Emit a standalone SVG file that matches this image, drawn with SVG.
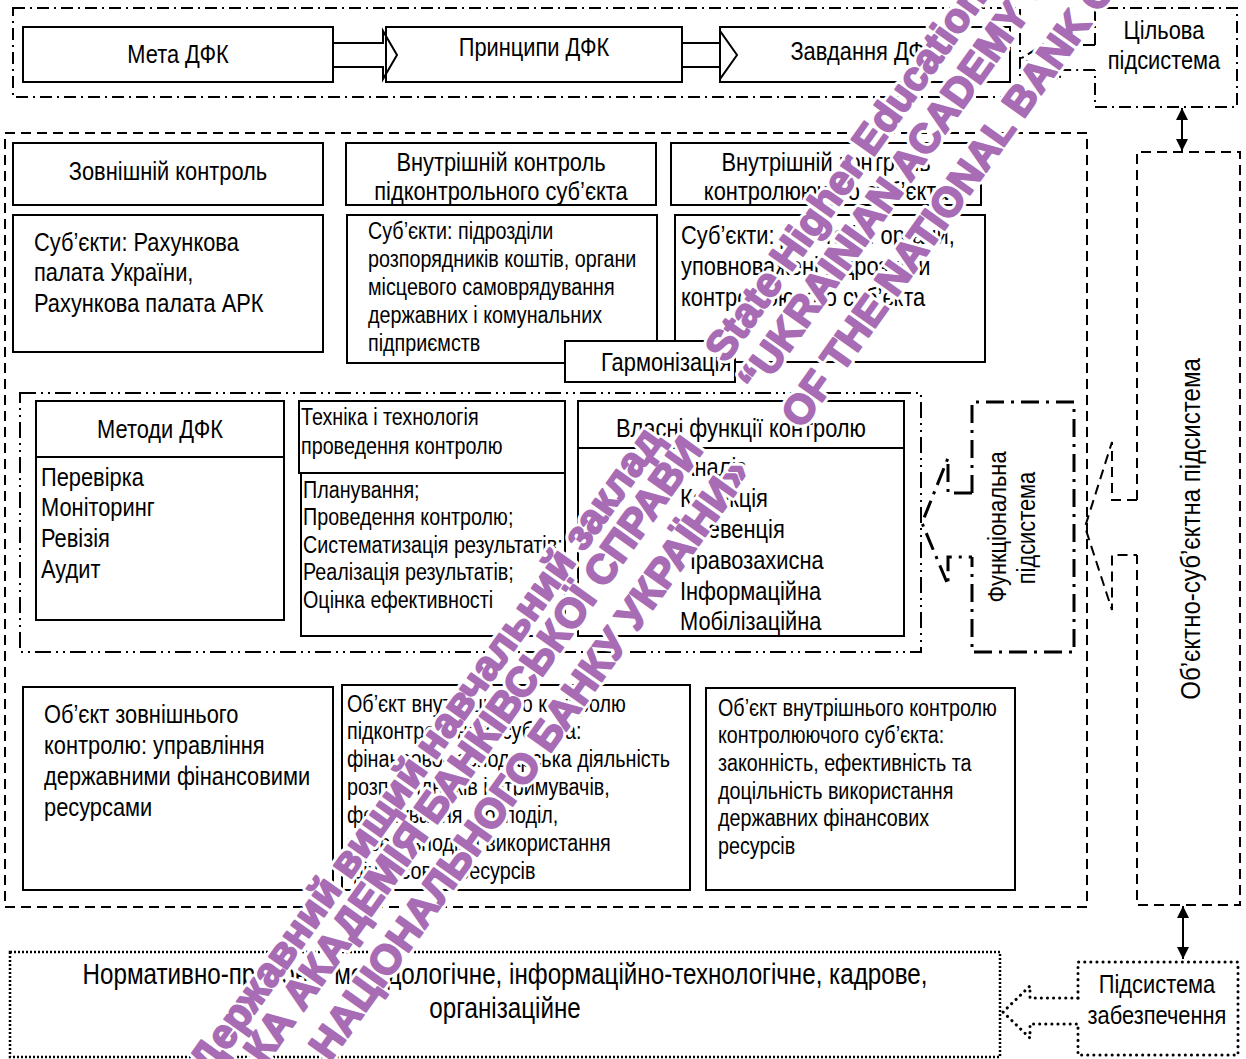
<svg xmlns="http://www.w3.org/2000/svg" width="1246" height="1059" viewBox="0 0 1246 1059">
<defs>
<style>
.bx{fill:#fff;stroke:#000;stroke-width:2}
.ln{fill:none;stroke:#000;stroke-width:2}
.t{font-family:"Liberation Sans",Arial,sans-serif;fill:#000}
.L{font-size:26px}
.S{font-size:23.5px}
.X{font-size:28.8px}
.m{text-anchor:middle}
.dd{fill:none;stroke:#000;stroke-width:2;stroke-dasharray:12 5 2 5}
.da{fill:none;stroke:#000;stroke-width:2;stroke-dasharray:10 6}
.ddd{fill:none;stroke:#000;stroke-width:2;stroke-dasharray:16 5 2 5 2 5}
.hv{fill:none;stroke:#000;stroke-width:3;stroke-dasharray:18 7 3 7}
.dot{fill:none;stroke:#000;stroke-width:2.5;stroke-dasharray:2 2}
.rdot{fill:none;stroke:#000;stroke-width:3;stroke-linecap:round;stroke-dasharray:0.1 6}
.wt{font-family:"Liberation Sans",Arial,sans-serif;font-weight:bold;font-size:41px}
.halo{fill:#fff;stroke:#fff;stroke-width:8;stroke-linejoin:round}
.wf{fill:#a86cb5;stroke:#a86cb5;stroke-width:2;stroke-linejoin:round}
</style>
<marker id="ah" viewBox="0 0 10 10" refX="10" refY="5" markerWidth="6" markerHeight="6" markerUnits="strokeWidth" orient="auto-start-reverse">
<path d="M0,0 L10,5 L0,10 z" fill="#000"/>
</marker>
<g id="w1"><text class="wt" transform="translate(726,364) rotate(-54.5)">State Higher Educational Institution</text></g>
<g id="w2"><text class="wt" transform="translate(759,395) rotate(-54.5)">“UKRAINIAN ACADEMY OF BANKING”</text></g>
<g id="w3"><text class="wt" transform="translate(802,430) rotate(-54.5)">OF THE NATIONAL BANK OF UKRAINE</text></g>
<g id="w4"><text class="wt" transform="translate(664,440) rotate(-54.5)" text-anchor="end">Державний вищий навчальний заклад</text></g>
<g id="w5"><text class="wt" transform="translate(704,450) rotate(-54.5)" text-anchor="end">«УКРАЇНСЬКА АКАДЕМІЯ БАНКІВСЬКОЇ СПРАВИ</text></g>
<g id="w6"><text class="wt" transform="translate(751,472) rotate(-54.5)" text-anchor="end">НАЦІОНАЛЬНОГО БАНКУ УКРАЇНИ»</text></g>
</defs>
<rect width="1246" height="1059" fill="#fff"/>

<g id="frames">
<rect class="dd" x="13" y="8" width="1007" height="89"/>
<rect class="da" x="5" y="133" width="1082" height="774"/>
<rect class="ddd" x="20" y="393" width="901" height="259"/>
<rect class="dot" x="10" y="952" width="990" height="105"/>
</g>

<g id="meta"><rect class="bx" x="23" y="27" width="310" height="55"/><text class="t L m" transform="translate(178,63) scale(.84,1)">Мета ДФК</text></g>
<g id="pryntsypy"><rect class="bx" x="386" y="27" width="296" height="55"/><text class="t L m" transform="translate(534,56) scale(.84,1)">Принципи ДФК</text></g>
<g id="zavdannia"><rect class="bx" x="720" y="27" width="290" height="55"/><text class="t L m" transform="translate(864,60) scale(.84,1)">Завдання ДФК</text></g>
<g id="tsilova"><path class="dd" d="M1095,45 L1095,8 L1237,8 L1237,107 L1095,107 L1095,70"/><text class="t L m" transform="translate(1164,39) scale(.84,1)">Цільова</text><text class="t L m" transform="translate(1164,69) scale(.84,1)">підсистема</text></g>

<g id="zovn"><rect class="bx" x="13" y="143" width="310" height="62"/><text class="t L m" transform="translate(168,180) scale(.84,1)">Зовнішній контроль</text></g>
<g id="vnutr-pidk"><rect class="bx" x="346" y="143" width="310" height="62"/><text class="t L m" transform="translate(501,171) scale(.84,1)">Внутрішній контроль</text><text class="t L m" transform="translate(501,200) scale(.84,1)">підконтрольного суб’єкта</text></g>
<g id="vnutr-kontr"><rect class="bx" x="671" y="143" width="310" height="62"/><text class="t L m" transform="translate(826,171) scale(.84,1)">Внутрішній контроль</text><text class="t L m" transform="translate(826,200) scale(.84,1)">контролюючого суб’єкта</text></g>
<g id="subj-zovn"><rect class="bx" x="13" y="215" width="310" height="137"/><text class="t L" transform="translate(34,251) scale(.84,1)">Суб’єкти: Рахункова</text><text class="t L" transform="translate(34,281) scale(.84,1)">палата України,</text><text class="t L" transform="translate(34,312) scale(.84,1)">Рахункова палата АРК</text></g>
<g id="subj-pidk"><rect class="bx" x="347" y="215" width="310" height="148"/><text class="t S" transform="translate(368,239) scale(.84,1)">Суб’єкти: підрозділи</text><text class="t S" transform="translate(368,267) scale(.84,1)">розпорядників коштів, органи</text><text class="t S" transform="translate(368,295) scale(.84,1)">місцевого самоврядування</text><text class="t S" transform="translate(368,323) scale(.84,1)">державних і комунальних</text><text class="t S" transform="translate(368,351) scale(.84,1)">підприємств</text></g>
<g id="subj-kontr"><rect class="bx" x="675" y="215" width="310" height="147"/><text class="t L" transform="translate(681,244) scale(.84,1)">Суб’єкти: ДФІ та ін. органи,</text><text class="t L" transform="translate(681,275) scale(.84,1)">уповноважені підрозділи</text><text class="t L" transform="translate(681,306) scale(.84,1)">контролюючого суб’єкта</text></g>
<g id="harmon"><rect class="bx" x="565" y="341" width="170" height="41"/><text class="t L" transform="translate(601,371) scale(.84,1)">Гармонізація</text></g>

<g id="metody"><rect class="bx" x="36" y="401" width="248" height="56"/><rect class="bx" x="36" y="457" width="248" height="163"/><text class="t L m" transform="translate(160,438) scale(.84,1)">Методи ДФК</text><text class="t L" transform="translate(41,486) scale(.84,1)">Перевірка</text><text class="t L" transform="translate(41,516) scale(.84,1)">Моніторинг</text><text class="t L" transform="translate(41,547) scale(.84,1)">Ревізія</text><text class="t L" transform="translate(41,578) scale(.84,1)">Аудит</text></g>
<g id="tekhnika"><rect class="bx" x="299" y="401" width="266" height="72"/><rect class="bx" x="301" y="473" width="264" height="163"/><text class="t S" transform="translate(301,425) scale(.84,1)">Техніка і технологія</text><text class="t S" transform="translate(301,454) scale(.84,1)">проведення контролю</text><text class="t S" transform="translate(303,498) scale(.84,1)">Планування;</text><text class="t S" transform="translate(303,525) scale(.84,1)">Проведення контролю;</text><text class="t S" transform="translate(303,553) scale(.84,1)">Систематизація результатів;</text><text class="t S" transform="translate(303,580) scale(.84,1)">Реалізація результатів;</text><text class="t S" transform="translate(303,608) scale(.84,1)">Оцінка ефективності</text></g>
<g id="funktsii"><rect class="bx" x="578" y="401" width="326" height="47"/><rect class="bx" x="578" y="448" width="326" height="188"/><text class="t L m" transform="translate(741,437) scale(.84,1)">Власні функції контролю</text><text class="t L" transform="translate(680,476) scale(.84,1)">Аналіз</text><text class="t L" transform="translate(680,507) scale(.84,1)">Корекція</text><text class="t L" transform="translate(680,538) scale(.84,1)">Превенція</text><text class="t L" transform="translate(680,569) scale(.84,1)">Правозахисна</text><text class="t L" transform="translate(680,600) scale(.84,1)">Інформаційна</text><text class="t L" transform="translate(680,630) scale(.84,1)">Мобілізаційна</text></g>
<g id="funkts-pidsyst"><path class="hv" d="M972,493 L972,402 L1074,402 L1074,652 L972,652 L972,557"/><text class="t L m" transform="translate(1006,527) rotate(-90) scale(.84,1)">Функціональна</text><text class="t L m" transform="translate(1035,528) rotate(-90) scale(.84,1)">підсистема</text></g>
<g id="obj-subj"><path class="da" d="M1137,500 L1137,152 L1240,152 L1240,905 L1137,905 L1137,555"/><text class="t m" font-size="28" transform="translate(1200,529) rotate(-90) scale(.86,1)">Об’єктно-суб’єктна підсистема</text></g>

<g id="obj-zovn"><rect class="bx" x="23" y="687" width="310" height="203"/><text class="t L" transform="translate(44,723) scale(.84,1)">Об’єкт зовнішнього</text><text class="t L" transform="translate(44,754) scale(.84,1)">контролю: управління</text><text class="t L" transform="translate(44,785) scale(.84,1)">державними фінансовими</text><text class="t L" transform="translate(44,816) scale(.84,1)">ресурсами</text></g>
<g id="obj-pidk"><rect class="bx" x="342" y="685" width="348" height="205"/><text class="t S" transform="translate(347,712) scale(.84,1)">Об’єкт внутрішнього контролю</text><text class="t S" transform="translate(347,739) scale(.84,1)">підконтрольного суб’єкта:</text><text class="t S" transform="translate(347,767) scale(.84,1)">фінансово-господарська діяльність</text><text class="t S" transform="translate(347,795) scale(.84,1)">розпорядників і отримувачів,</text><text class="t S" transform="translate(347,823) scale(.84,1)">формування, розподіл,</text><text class="t S" transform="translate(347,851) scale(.84,1)">перерозподіл і використання</text><text class="t S" transform="translate(347,879) scale(.84,1)">фінансових ресурсів</text></g>
<g id="obj-kontr"><rect class="bx" x="706" y="688" width="309" height="202"/><text class="t S" transform="translate(718,716) scale(.84,1)">Об’єкт внутрішнього контролю</text><text class="t S" transform="translate(718,743) scale(.84,1)">контролюючого суб’єкта:</text><text class="t S" transform="translate(718,771) scale(.84,1)">законність, ефективність та</text><text class="t S" transform="translate(718,799) scale(.84,1)">доцільність використання</text><text class="t S" transform="translate(718,826) scale(.84,1)">державних фінансових</text><text class="t S" transform="translate(718,854) scale(.84,1)">ресурсів</text></g>

<g id="normatyvne"><text class="t X m" transform="translate(505,984) scale(.84,1)">Нормативно-правове, методологічне, інформаційно-технологічне, кадрове,</text><text class="t X m" transform="translate(505,1018) scale(.84,1)">організаційне</text></g>
<g id="pidsyst-zabezp"><path class="rdot" d="M1078,998 L1078,962 L1238,962 L1238,1055 L1078,1055 L1078,1024"/><text class="t L m" transform="translate(1157,993) scale(.84,1)">Підсистема</text><text class="t L m" transform="translate(1157,1024) scale(.84,1)">забезпечення</text></g>

<g id="connectors">
<path class="ln" d="M333,43 L383,43 L383,31 L397,55 L383,79 L383,67 L333,67"/>
<path class="ln" d="M682,43 L720,43 L720,31 L737,55 L720,79 L720,67 L682,67"/>
<path class="dd" d="M1095,45 L1060,45 L1060,34 L1022,58 L1060,80 L1060,70 L1095,70"/>
<path class="hv" d="M972,493 L948,493 L948,458 L922,523 L948,585 L948,557 L972,557"/>
<path class="da" d="M1137,500 L1112,500 L1112,442 L1085,527 L1112,610 L1112,555 L1137,555"/>
<path class="rdot" d="M1078,998 L1030,998 L1030,986 L1003,1012 L1030,1038 L1030,1024 L1078,1024"/>
<line class="ln" x1="1182" y1="108" x2="1182" y2="151" stroke-width="2.5" marker-start="url(#ah)" marker-end="url(#ah)"/>
<line class="ln" x1="1183" y1="906" x2="1183" y2="959" stroke-width="2.5" marker-start="url(#ah)" marker-end="url(#ah)"/>
</g>

<g id="watermark">
<use href="#w1" class="halo"/><use href="#w2" class="halo"/><use href="#w3" class="halo"/><use href="#w4" class="halo"/><use href="#w5" class="halo"/><use href="#w6" class="halo"/>
<use href="#w1" class="wf"/><use href="#w2" class="wf"/><use href="#w3" class="wf"/><use href="#w4" class="wf"/><use href="#w5" class="wf"/><use href="#w6" class="wf"/>
</g>
</svg>
